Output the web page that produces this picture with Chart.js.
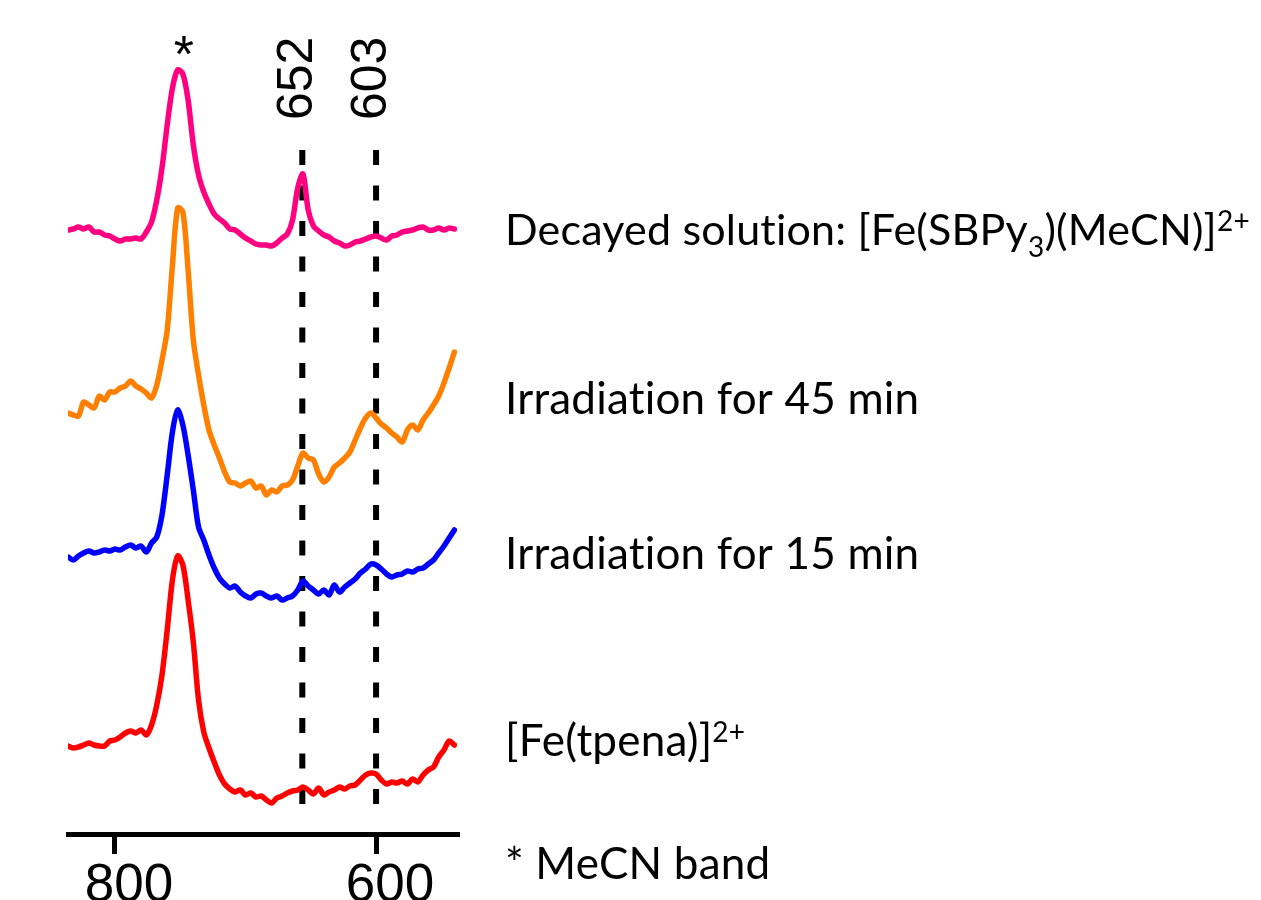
<!DOCTYPE html>
<html>
<head>
<meta charset="utf-8">
<script src="https://cdn.jsdelivr.net/npm/chart.js@4/dist/chart.umd.min.js"></script>
<style>
  html, body { margin: 0; padding: 0; background: #fff; overflow: hidden; }
  #wrap { width: 1261px; height: 900px; }
</style>
</head>
<body>
<div id="wrap"><canvas id="ramanChart" width="1261" height="900"></canvas></div>
<script>
/* Raman shift grid (cm-1), shared by all four spectra */
const wavenumbers = [836, 832, 828, 824, 820, 816, 812, 808, 804, 800,
  796, 792, 788, 784, 780, 776, 772, 768, 764, 760,
  756, 752, 748, 744, 740, 736, 732, 728, 724, 720,
  716, 712, 708, 704, 700, 696, 692, 688, 684, 680,
  676, 672, 668, 664, 660, 656, 652, 648, 644, 640,
  636, 632, 628, 624, 620, 616, 612, 608, 604, 600,
  596, 592, 588, 584, 580, 576, 572, 568, 564, 560,
  556, 552, 548, 544, 540];

/* intensities (a.u., spectra already stacked with offsets) */
const decayed = [60.2, 60.3, 60.5, 60.3, 60.5, 60.0, 60.0, 59.7, 59.6, 59.3,
  59.1, 59.3, 59.3, 59.4, 59.3, 60.0, 61.0, 63.2, 66.4, 70.7,
  74.4, 76.2, 75.8, 73.2, 68.7, 65.7, 64.0, 62.8, 61.8, 61.3,
  60.9, 60.3, 60.2, 59.8, 59.4, 59.1, 58.8, 58.7, 58.7, 58.6,
  58.9, 59.4, 59.8, 61.2, 64.4, 65.8, 62.2, 60.6, 60.1, 59.7,
  59.5, 59.1, 58.9, 58.6, 58.7, 59.0, 59.1, 59.3, 59.5, 59.6,
  59.4, 59.2, 59.6, 59.7, 60.0, 60.1, 60.2, 60.4, 60.5, 60.2,
  60.2, 60.4, 60.2, 60.4, 60.3];

const irr45 = [41.9, 41.7, 41.6, 43.0, 42.7, 42.4, 43.6, 43.2, 44.0, 44.0,
  44.4, 44.6, 45.1, 44.6, 44.3, 43.9, 43.4, 44.7, 47.2, 50.2,
  56.7, 62.4, 62.0, 56.2, 49.2, 45.7, 42.7, 40.2, 38.7, 37.4,
  36.0, 35.0, 34.9, 34.6, 34.9, 35.1, 34.4, 34.6, 33.7, 34.2,
  34.0, 34.6, 34.7, 35.2, 36.6, 37.9, 37.4, 37.2, 35.8, 35.0,
  35.5, 36.5, 36.9, 37.4, 38.0, 39.2, 40.4, 41.4, 41.9, 41.4,
  40.8, 40.4, 39.9, 39.5, 39.0, 40.2, 40.7, 40.2, 41.2, 41.9,
  42.7, 43.6, 44.9, 46.4, 48.0];

const irr15 = [27.5, 27.2, 27.6, 27.9, 28.1, 27.9, 28.0, 28.2, 28.1, 28.3,
  28.2, 28.5, 28.7, 28.4, 28.6, 28.0, 28.9, 29.5, 31.7, 35.7,
  40.0, 42.2, 40.7, 37.7, 34.2, 30.5, 29.2, 27.7, 26.4, 25.4,
  24.8, 24.4, 24.6, 24.0, 23.6, 23.4, 23.8, 23.9, 23.6, 23.4,
  23.6, 23.2, 23.4, 23.6, 24.2, 25.1, 24.6, 24.2, 23.8, 24.2,
  23.7, 24.7, 24.0, 24.5, 24.9, 25.3, 25.9, 26.3, 26.8, 26.7,
  26.3, 25.8, 25.5, 25.7, 25.8, 26.1, 26.0, 26.3, 26.4, 26.8,
  27.2, 27.9, 28.6, 29.4, 30.2];

const tpena = [8.6, 8.4, 8.5, 8.7, 8.9, 8.7, 8.6, 8.6, 9.1, 9.2,
  9.5, 9.9, 10.1, 9.9, 10.2, 9.7, 10.7, 12.7, 15.7, 20.2,
  25.2, 27.6, 26.7, 23.2, 19.0, 13.2, 10.0, 8.4, 7.0, 5.7,
  4.8, 4.3, 4.0, 4.2, 3.7, 3.9, 3.5, 3.6, 3.2, 2.9,
  3.4, 3.6, 3.9, 4.1, 4.2, 4.5, 4.2, 3.8, 4.4, 3.7,
  4.0, 4.2, 4.5, 4.3, 4.6, 4.7, 5.2, 5.7, 5.9, 5.8,
  5.2, 4.8, 5.0, 4.9, 5.1, 4.8, 5.3, 5.0, 5.7, 6.2,
  6.5, 7.5, 8.2, 9.1, 8.7];

const xTicks = [800, 600];

/* dashed marker lines: where they sit and what they are labelled */
const markerPos = [656.5, 600];
const markerText = ['652', '603'];
const markerSpan = [68.2, 2.7];   // top / bottom intensity of the dashed lines
const mecnPos = 748;              // the "*" above the MeCN band

const traceNames = [
  [{ t: 'Decayed solution: [Fe(SBPy' }, { t: '3', sub: true }, { t: ')(MeCN)]' }, { t: '2+', sup: true }],
  [{ t: 'Irradiation for 45 min' }],
  [{ t: 'Irradiation for 15 min' }],
  [{ t: '[Fe(tpena)]' }, { t: '2+', sup: true }],
  [{ t: '* MeCN band' }]
];
const traceNameY = [245, 414, 569, 756, 879];
const traceNameSize = [43, 44, 44, 44, 44];

const colors = ['#ff0080', '#ff8000', '#0000ff', '#ff0000'];
const series = [decayed, irr45, irr15, tpena];

function toPoints(arr) {
  return wavenumbers.map((w, i) => ({ x: w, y: arr[i] }));
}

const datasets = series.map((arr, i) => ({
  data: toPoints(arr),
  borderColor: colors[i],
  borderWidth: 5.5,
  pointRadius: 0,
  tension: 0.3,
  borderJoinStyle: 'round',
  borderCapStyle: 'round',
  fill: false
}));

// dashed reference lines
markerPos.forEach(p => {
  datasets.push({
    data: [{ x: p, y: markerSpan[0] }, { x: p, y: markerSpan[1] }],
    borderColor: '#000',
    borderWidth: 6,
    borderDash: [15, 20.5],
    pointRadius: 0,
    fill: false
  });
});

function drawRich(ctx, parts, x, y, size) {
  let cx = x;
  const small = Math.round(size * 0.64);
  parts.forEach(p => {
    let dy = 0;
    if (p.sub) { ctx.font = small + 'px Lato'; dy = 12; }
    else if (p.sup) { ctx.font = small + 'px Lato'; dy = -14; }
    else ctx.font = size + 'px Lato';
    ctx.fillText(p.t, cx, y + dy);
    cx += ctx.measureText(p.t).width;
  });
}

const textPlugin = {
  id: 'textPlugin',
  afterDraw(chart) {
    const ctx = chart.ctx;
    const xs = chart.scales.x;
    ctx.save();
    ctx.fillStyle = '#000';
    ctx.textBaseline = 'alphabetic';

    // star over MeCN band
    ctx.font = '52px "Liberation Sans"';
    ctx.textAlign = 'center';
    ctx.fillText('*', xs.getPixelForValue(mecnPos) + 1, 72);

    // rotated peak labels
    markerPos.forEach((p, i) => {
      ctx.save();
      ctx.translate(xs.getPixelForValue(p) + 10, 120);
      ctx.rotate(-Math.PI / 2);
      ctx.textAlign = 'left';
      ctx.font = '50px "Liberation Sans"';
      ctx.fillText(markerText[i], 0, 0);
      ctx.restore();
    });

    // trace names on the right (small letter spacing keeps Lato from joining "ti")
    ctx.textAlign = 'left';
    if ('letterSpacing' in ctx) ctx.letterSpacing = '0.2px';
    traceNames.forEach((parts, i) => drawRich(ctx, parts, 505, traceNameY[i], traceNameSize[i]));
    ctx.restore();
  }
};

new Chart(document.getElementById('ramanChart').getContext('2d'), {
  type: 'line',
  data: { datasets },
  options: {
    responsive: false,
    animation: false,
    layout: { padding: { left: 68, right: 804, top: 32, bottom: 0 } },
    plugins: { legend: { display: false }, tooltip: { enabled: false } },
    scales: {
      x: {
        type: 'linear',
        reverse: true,
        min: 538,
        max: 836,
        afterBuildTicks: axis => { axis.ticks = xTicks.map(v => ({ value: v })); },
        afterFit: axis => { axis.height = 66; },
        grid: { drawOnChartArea: false, drawTicks: true, tickLength: 20, color: '#000', lineWidth: 5 },
        border: { display: true, color: '#000', width: 5 },
        ticks: {
          color: '#000',
          font: { family: 'Liberation Sans', size: 53 },
          labelOffset: 14,
          padding: 1,
          maxRotation: 0
        }
      },
      y: { display: false, min: -0.2, max: 80 }
    }
  },
  plugins: [textPlugin]
});
</script>
</body>
</html>
